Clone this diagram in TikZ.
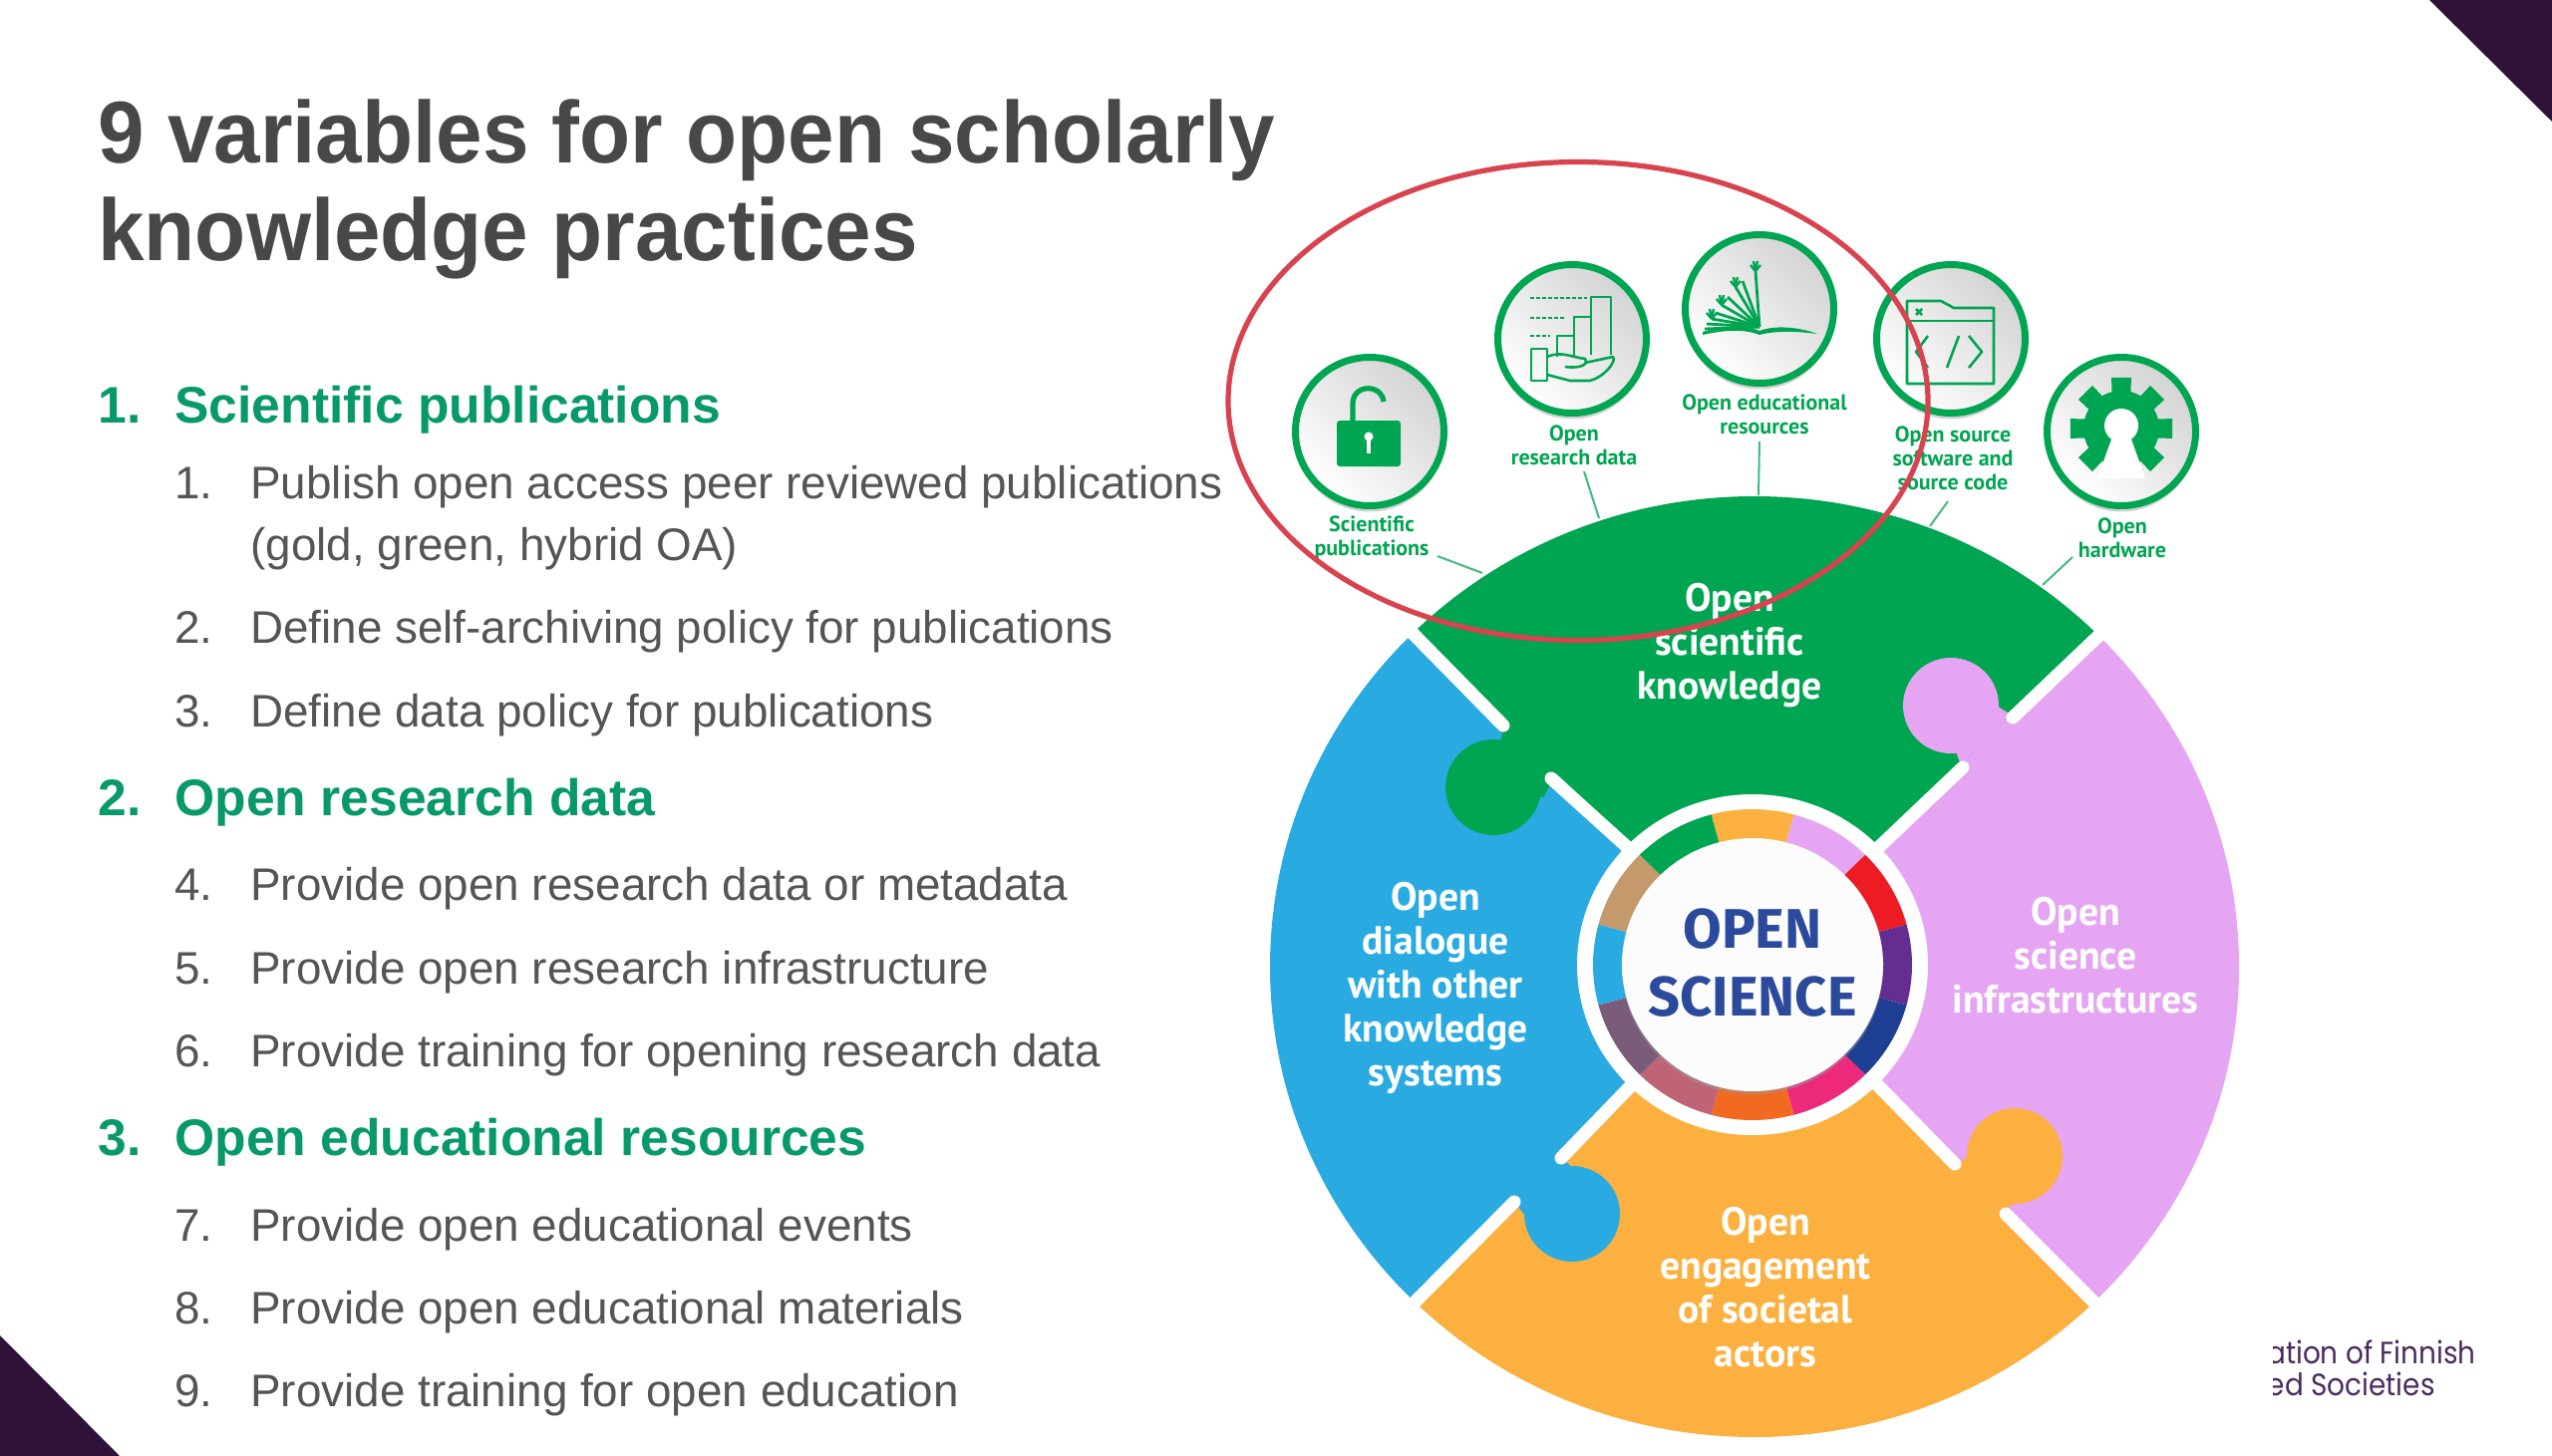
\documentclass[tikz,border=0pt]{standalone}
\usepackage{fontspec}
\usetikzlibrary{shapes.geometric,shadows}
\setmainfont{Liberation Sans}
\newfontfamily\ttlf[FakeStretch=0.95]{Liberation Sans}
\newfontfamily\labf{PT Sans}
\newfontfamily\dinf{Fira Sans}
\newfontfamily\popf[FakeStretch=0.9]{Poppins}
\definecolor{cgreen}{HTML}{00A551}
\definecolor{cblue}{HTML}{29ABE2}
\definecolor{clilac}{HTML}{E5A5F2}
\definecolor{corange}{HTML}{FBB040}
\definecolor{cred}{HTML}{ED1C24}
\definecolor{cpurple}{HTML}{662D91}
\definecolor{cnavy}{HTML}{1F3F94}
\definecolor{cpink}{HTML}{EC297B}
\definecolor{cdorange}{HTML}{F26A21}
\definecolor{crose}{HTML}{BE6476}
\definecolor{cmauve}{HTML}{7A5C7A}
\definecolor{ctan}{HTML}{C49A6C}
\definecolor{headg}{HTML}{08996B}
\definecolor{titleg}{HTML}{484848}
\definecolor{bodyg}{HTML}{555555}
\definecolor{dark}{HTML}{2F1238}
\definecolor{foot}{HTML}{4B2A5E}
\definecolor{redring}{HTML}{D8434F}
\definecolor{navytext}{HTML}{2B4A9B}
\tikzset{
  titleT/.style={anchor=base west,inner sep=0pt,font=\fontsize{44pt}{44pt}\selectfont\ttlf\bfseries,text=titleg},
  headT/.style={anchor=base west,inner sep=0pt,font=\fontsize{25.8pt}{25.8pt}\selectfont\bfseries,text=headg},
  bodyT/.style={anchor=base west,inner sep=0pt,font=\fontsize{22.9pt}{22.9pt}\selectfont,text=bodyg},
  pieceT/.style={align=center,inner sep=0pt,text=white,font=\fontsize{19.8pt}{22pt}\selectfont\labf\bfseries},
  iconT/.style={align=center,inner sep=0pt,text=cgreen,font=\fontsize{11pt}{12pt}\selectfont\labf\bfseries},
  iconR/.style={circle,draw=cgreen,line width=3.5pt,minimum size=74.5pt,inner sep=0pt,
    top color=black!17,middle color=white,bottom color=white,shading angle=-45,
    drop shadow={shadow xshift=0pt,shadow yshift=-3pt,fill=black!35,opacity=.5}},
  lead/.style={draw=cgreen!75,line width=1pt},
  gap/.style={draw=white,line width=6.5pt,line cap=round},
  icl/.style={draw=cgreen,line width=1.3pt,line join=round},
  footT/.style={anchor=base east,inner sep=0pt,text=foot,font=\fontsize{15.5pt}{15.5pt}\selectfont\popf},
}
\begin{document}
\begin{tikzpicture}[x=0.5pt,y=-0.5pt]
\useasboundingbox (0,0) rectangle (2560,1461);
\fill[white] (0,0) rectangle (2560,1461);
% corners
\fill[dark] (2437,0) -- (2560,0) -- (2560,122) -- cycle;
\fill[dark] (0,1340) -- (120,1461) -- (0,1461) -- cycle;
% title
\node[titleT] (title1) at (98,163) {9 variables for open scholarly};
\node[titleT] (title2) at (98,261) {knowledge practices};
% list
\node[headT] (h1n) at (98,424) {1.};
\node[headT] (h1t) at (175,424) {Scientific publications};
\node[bodyT] (i1n) at (175,500) {1.};
\node[bodyT] (i1t) at (251,500) {Publish open access peer reviewed publications};
\node[bodyT] (i1u) at (251,562) {(gold, green, hybrid OA)};
\node[bodyT] (i2n) at (175,645) {2.};
\node[bodyT] (i2t) at (251,645) {Define self-archiving policy for publications};
\node[bodyT] (i3n) at (175,729) {3.};
\node[bodyT] (i3t) at (251,729) {Define data policy for publications};
\node[headT] (h2n) at (98,818) {2.};
\node[headT] (h2t) at (175,818) {Open research data};
\node[bodyT] (i4n) at (175,903) {4.};
\node[bodyT] (i4t) at (251,903) {Provide open research data or metadata};
\node[bodyT] (i5n) at (175,987) {5.};
\node[bodyT] (i5t) at (251,987) {Provide open research infrastructure};
\node[bodyT] (i6n) at (175,1070) {6.};
\node[bodyT] (i6t) at (251,1070) {Provide training for opening research data};
\node[headT] (h3n) at (98,1159) {3.};
\node[headT] (h3t) at (175,1159) {Open educational resources};
\node[bodyT] (i7n) at (175,1245) {7.};
\node[bodyT] (i7t) at (251,1245) {Provide open educational events};
\node[bodyT] (i8n) at (175,1328) {8.};
\node[bodyT] (i8t) at (251,1328) {Provide open educational materials};
\node[bodyT] (i9n) at (175,1411) {9.};
\node[bodyT] (i9t) at (251,1411) {Provide training for open education};
% footer
\begin{scope}
\clip (2280,1320) rectangle (2560,1420);
\node[footT] (foot1) at (2484,1368) {ation of Finnish};
\node[footT] (foot2) at (2443,1400) {ed Societies};
\end{scope}
% puzzle disc
\begin{scope}
\clip (1760,970) ellipse [x radius=486,y radius=472];
\fill[cblue] (1759,970) -- (1317,536) -- (1200,400) -- (1200,1500) -- (1317,1409) -- cycle;
\fill[clilac] (1759,970) -- (2203,544) -- (2300,400) -- (2300,1500) -- (2204,1410) -- cycle;
\fill[cgreen] (1759,970) -- (1317,536) -- (1317,300) -- (2203,300) -- (2203,544) -- cycle;
\fill[corange] (1759,970) -- (1317,1409) -- (1317,1500) -- (2204,1500) -- (2204,1410) -- cycle;
\end{scope}
% tabs
\fill[cgreen] (1498,790) circle [radius=48];
\fill[cgreen] (1506,742) .. controls (1515,750) and (1520,760) .. (1548,800) -- (1580,730) -- (1510,722) -- cycle;
\fill[cgreen] (1510,722) -- (1562,775) -- (1548,800) -- (1498,790) -- (1506,742) -- cycle;
\fill[clilac] (1957,708) circle [radius=48];
\fill[clilac] (2017,717) -- (1967,768) -- (2020,790) -- (2050,745) -- cycle;
\fill[clilac] (2017,717) -- (1967,768) -- (1957,740) -- (1990,700) -- cycle;
\fill[corange] (2021,1160) circle [radius=48];
\fill[corange] (1963,1170) -- (2010,1216) -- (1960,1240) -- (1925,1205) -- cycle;
\fill[corange] (1963,1170) -- (2010,1216) -- (2040,1190) -- (1995,1140) -- cycle;
\fill[cblue] (1577,1218) circle [radius=48];
\fill[cblue] (1568,1164) -- (1521,1208) -- (1490,1170) -- (1530,1130) -- cycle;
\fill[cblue] (1568,1164) -- (1521,1208) -- (1545,1240) -- (1595,1185) -- cycle;
% gaps
\coordinate (nwO) at (1397,615);
\coordinate (nwA) at (1508,728);
\coordinate (nwB) at (1556,781);
\coordinate (nwI) at (1650,866);
\coordinate (neO) at (2124,620);
\coordinate (neA) at (2019,720);
\coordinate (neB) at (1969,770);
\coordinate (neI) at (1868,866);
\coordinate (seO) at (2124,1330);
\coordinate (seA) at (1961,1168);
\coordinate (seB) at (2012,1218);
\coordinate (seI) at (1868,1073);
\coordinate (swO) at (1397,1329);
\coordinate (swA) at (1566,1162);
\coordinate (swB) at (1519,1206);
\coordinate (swI) at (1650,1075);
\draw[gap] (nwO) -- (nwA);
\draw[gap] (nwB) -- (nwI);
\draw[gap] (neO) -- (neA);
\draw[gap] (neB) -- (neI);
\draw[gap] (seO) -- (seB);
\draw[gap] (seA) -- (seI);
\draw[gap] (swO) -- (swB);
\draw[gap] (swA) -- (swI);
% hub
\fill[white] (1758,968) ellipse [x radius=176,y radius=171];
\begin{scope}[shift={(1758,968)}]
\foreach \ang/\col in {-90/corange,-60/clilac,-30/cred,0/cpurple,30/cnavy,60/cpink,90/cdorange,120/crose,150/cmauve,180/cblue,210/ctan,240/cgreen}{
  \pgfmathsetmacro{\aa}{\ang-15}
  \pgfmathsetmacro{\bb}{\ang+15}
  \fill[\col] plot[domain=\aa:\bb,samples=12,smooth] ({160*cos(\x)},{156*sin(\x)}) --
     plot[domain=\bb:\aa,samples=12,smooth] ({125*cos(\x)},{122*sin(\x)}) -- cycle;
}
\end{scope}
\node[ellipse,fill=black!1!white,minimum width=131pt,minimum height=127pt,inner sep=0pt,
  drop shadow={shadow xshift=0pt,shadow yshift=-1.5pt,fill=black!40,opacity=.5}] (hub) at (1758,968) {};
\node[align=center,inner sep=0pt,text=navytext,font=\fontsize{28pt}{34pt}\selectfont\dinf\bfseries] (hubT) at (1758,966) {OPEN\\SCIENCE};
% piece labels
\node[pieceT] (pgreen) at (1735,648) {Open\\scientific\\knowledge};
\node[pieceT] (pblue) at (1440,991) {Open\\dialogue\\with other\\knowledge\\systems};
\node[pieceT] (plilac) at (2082,959) {Open\\science\\infrastructures};
\node[pieceT] (porange) at (1771,1292) {Open\\engagement\\of societal\\actors};
% icons
\node[iconR] (c1) at (1374,433) {};
\node[iconR] (c2) at (1577,340) {};
\node[iconR] (c3) at (1765,310) {};
\node[iconR] (c4) at (1957,340) {};
\node[iconR] (c5) at (2128,433) {};
% lock
\fill[cgreen,rounded corners=1.5pt] (1341,422) rectangle (1405,468);
\draw[cgreen,line width=2.6pt] (1357,424) -- (1357,405) .. controls (1357,385) and (1386,385) .. (1388,403);
\fill[white] (1373,438) circle [radius=4.5];
\fill[white] (1371,438) rectangle (1375,455);
% data
\foreach \yy/\xe in {299/1592,319/1569,337/1555}{\draw[icl,dash pattern=on 2pt off 1pt] (1535,\yy) -- (\xe,\yy);}
\draw[icl] (1596,356) -- (1596,298) -- (1616,298) -- (1616,356);
\draw[icl] (1596,318) -- (1579,318) -- (1579,358);
\draw[icl] (1579,337) -- (1562,337) -- (1562,358);
\draw[icl] (1536,350) rectangle (1552,382);
\draw[icl] (1552,358) .. controls (1566,352) and (1575,358) .. (1590,360) .. controls (1594,366) and (1585,370) .. (1570,368);
\draw[icl] (1590,364) -- (1618,358) .. controls (1622,362) and (1610,378) .. (1595,382) -- (1575,382) -- (1552,376);
% book and plant
\fill[cgreen] (1708,333) .. controls (1735,325) and (1752,326) .. (1765,332) .. controls (1780,326) and (1805,328) .. (1823,335) .. controls (1800,332) and (1780,332) .. (1765,336) .. controls (1750,330) and (1730,331) .. (1708,336) -- cycle;
\foreach \ex/\ey in {1761/272,1748/282,1741/288,1733/298,1727/306,1721/314,1717/320,1712/325,1710/330}{
  \draw[cgreen,line width=1.4pt] (1765,328) -- (\ex,\ey);
}
\foreach \ex/\ey in {1761/272,1741/288,1727/306,1717/320}{
  \foreach \ddx/\ddy in {-5/-6,-2/-10,2/-10,5/-6}{\draw[cgreen,line width=1.2pt] (\ex,\ey) -- ++(\ddx,\ddy);}
}
% folder
\draw[icl] (1913,385) -- (1913,302) -- (1947,302) -- (1960,309) -- (2000,309) -- (2000,385) -- cycle;
\draw[icl] (1913,322) -- (2000,322);
\draw[icl] (1922,310) -- (1928,316) (1928,310) -- (1922,316);
\draw[icl] (1934,337) -- (1922,353) -- (1934,369);
\draw[icl] (1965,337) -- (1953,369);
\draw[icl] (1975,337) -- (1988,353) -- (1975,369);
% gear
\begin{scope}[shift={(2128,430)}]
\fill[cgreen] (0,0) circle [radius=38];
\foreach \ang in {-90,-45,0,45,135,180,225}{
  \fill[cgreen] (\ang-16:34) -- (\ang-11:52) -- (\ang+11:52) -- (\ang+16:34) -- cycle;
}
\fill[white] (0,-3) circle [radius=17];
\fill[white] (-9,8) -- (9,8) -- (24,50) -- (-24,50) -- cycle;
\end{scope}
% icon labels
\node[iconT] (l1) at (1376,539.5) {Scientific\\publications};
\node[iconT] (l2) at (1579,446.5) {Open\\research data};
\node[iconT] (l3) at (1770,415.5) {Open educational\\resources};
\node[iconT] (l4) at (1959,459.5) {Open source\\software and\\source code};
\node[iconT] (l5) at (2129,539.5) {Open\\hardware};
% leaders
\coordinate (s1) at (1442,558);
\coordinate (s2) at (1589,473);
\coordinate (s3) at (1765,443);
\coordinate (s4) at (1954,503);
\coordinate (s5) at (2079,559);
\coordinate (e1) at (1487,575);
\coordinate (e2) at (1604,520);
\coordinate (e3) at (1764,497);
\coordinate (e4) at (1936,528);
\coordinate (e5) at (2049,587);
\draw[lead] (s1) -- (e1);
\draw[lead] (s2) -- (e2);
\draw[lead] (s3) -- (e3);
\draw[lead] (s4) -- (e4);
\draw[lead] (s5) -- (e5);
% red ellipse
\draw[redring,line width=2.6pt] (1583,402.5) ellipse [x radius=351,y radius=240];
\end{tikzpicture}
\end{document}
